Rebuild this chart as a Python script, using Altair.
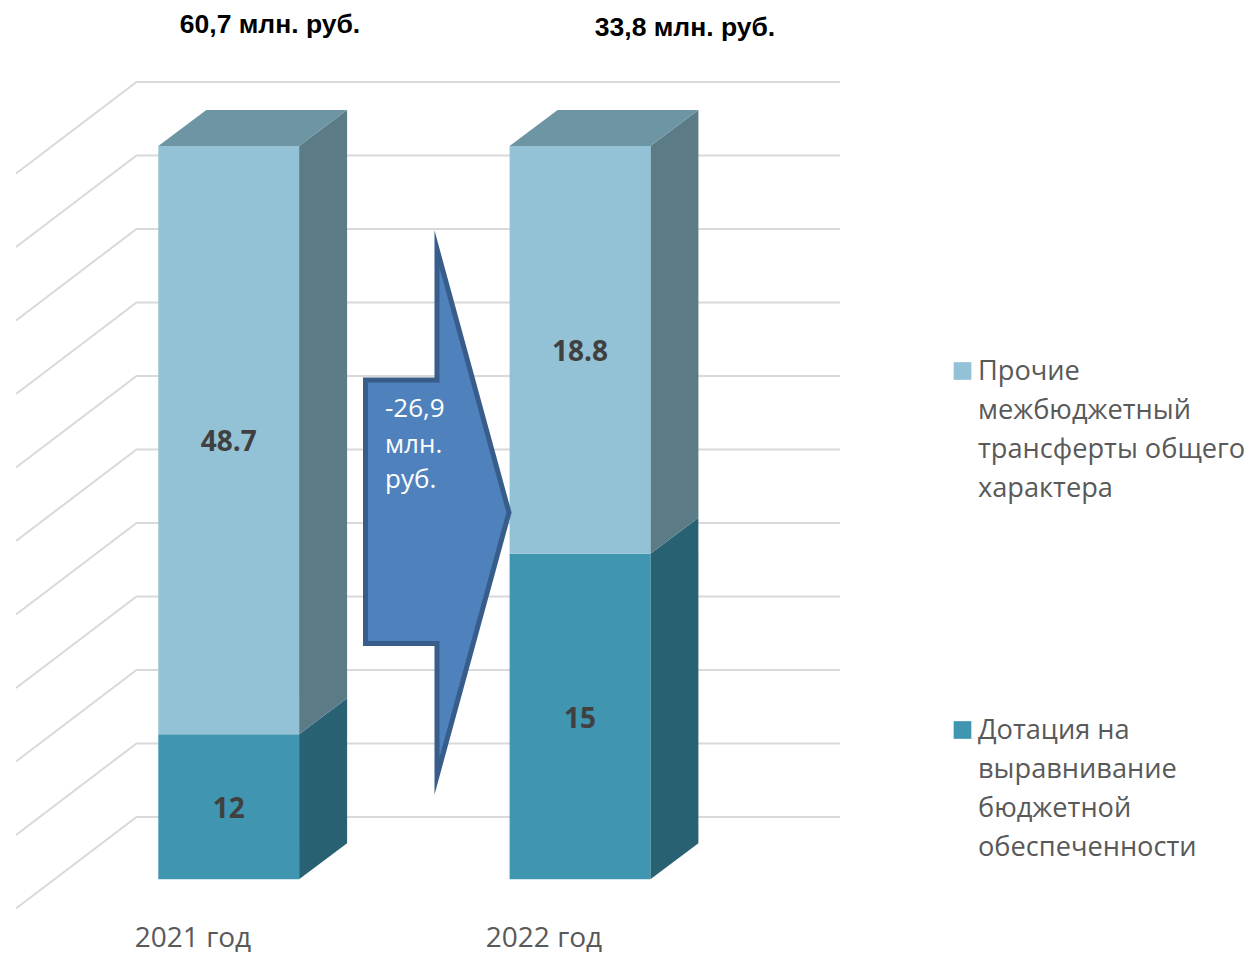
import altair as alt

# ---- data ----
categories = ["2021 год", "2022 год"]
dotation = [12, 15]
other = [48.7, 18.8]
totals = ["60,7 млн. руб.", "33,8 млн. руб."]
change_lines = ["-26,9", "млн.", "руб."]
legend_other = ["Прочие", "межбюджетный", "трансферты общего", "характера"]
legend_dotation = ["Дотация на", "выравнивание", "бюджетной", "обеспеченности"]
grid_levels = [0, 10, 20, 30, 40, 50, 60, 70, 80, 90, 100]

# ---- styling and layout ----
C_DOT, C_OTH = "#4096B0", "#93C1D5"
C_DOT_SIDE, C_OTH_SIDE, C_TOP = "#286272", "#5B7B87", "#6E95A3"
C_GRID = "#D9D9D9"
W, H = 1237, 945
SLOT = 351.3          # px between bar centres
X0 = 228.7            # px position of first bar centre
PCT = 7.333           # px per percent
Y0 = 879.3            # px of front baseline
BAR_HALF = 70.4 / SLOT
DX = 48 / SLOT        # 3-D depth, horizontal
DY = 36 / PCT         # 3-D depth, vertical
def ux(p): return (p - X0) / SLOT
def uy(p): return (Y0 - p) / PCT

x_scale = alt.Scale(domain=[ux(8), ux(8 + W)], nice=False, zero=False)
y_scale = alt.Scale(domain=[uy(8 + H), uy(8)], nice=False, zero=False)
X = alt.X("x:Q", scale=x_scale, axis=None)
Y = alt.Y("y:Q", scale=y_scale, axis=None)
Y2 = alt.Y2("y2:Q")

# ---- normalised stacks ----
fronts, sides, tops, labels = [], [], [], []
for i in range(len(categories)):
    total = dotation[i] + other[i]
    split = dotation[i] / total * 100
    segs = [(0, split, dotation[i], C_DOT, C_DOT_SIDE), (split, 100, other[i], C_OTH, C_OTH_SIDE)]
    l, r = i - BAR_HALF, i + BAR_HALF
    for k, (a, b, v, c, cs) in enumerate(segs):
        fronts.append(dict(x=l, x2=r, y=a, y2=b, c=c))
        key = f"{i}-{k}"
        sides.append(dict(x=r, y=a, y2=b, c=cs, key=key))
        sides.append(dict(x=r + DX, y=a + DY, y2=b + DY, c=cs, key=key))
        labels.append(dict(x=i, y=(a + b) / 2, t=str(v)))
    key = f"top{i}"
    tops += [dict(x=l, y=100, y2=100, c=C_TOP, key=key),
             dict(x=l + DX, y=100, y2=100 + DY, c=C_TOP, key=key),
             dict(x=r, y=100, y2=100 + DY, c=C_TOP, key=key),
             dict(x=r + DX, y=100 + DY, y2=100 + DY, c=C_TOP, key=key)]

# ---- back wall grid ----
GRID_STEP = 73.5
grid = []
for g in grid_levels:
    py = 816.9 - g / 10 * GRID_STEP
    grid += [dict(x=ux(16), y=uy(py + 91.6), key=g, o=0),
             dict(x=ux(136.5), y=uy(py), key=g, o=1),
             dict(x=ux(840), y=uy(py), key=g, o=2)]

# ---- arrow ----
arrow = [dict(x=ux(365.5), y=uy(380), y2=uy(643.5)),
         dict(x=ux(437), y=uy(380), y2=uy(643.5)),
         dict(x=ux(437.001), y=uy(249), y2=uy(776)),
         dict(x=ux(509), y=uy(512.5), y2=uy(512.5))]

def df(r): return alt.Data(values=r)

layers = [
    alt.Chart(df(grid)).mark_line(color=C_GRID, strokeWidth=2, strokeJoin="miter").encode(
        x=X, y=Y, detail="key:N", order="o:Q"),
    alt.Chart(df(sides)).mark_area(orient="vertical").encode(
        x=X, y=Y, y2=Y2, detail="key:N", fill=alt.Fill("c:N", scale=None)),
    alt.Chart(df(tops)).mark_area(orient="vertical").encode(
        x=X, y=Y, y2=Y2, detail="key:N", fill=alt.Fill("c:N", scale=None)),
    alt.Chart(df(fronts)).mark_rect().encode(
        x=X, x2=alt.X2("x2:Q"), y=Y, y2=Y2, fill=alt.Fill("c:N", scale=None)),
    alt.Chart(df(arrow)).mark_area(orient="vertical", fill="#4F81BD", stroke="#385D8A", strokeWidth=5,
                                   strokeJoin="miter", strokeMiterLimit=10).encode(
        x=X, y=Y, y2=Y2),
    alt.Chart(df(labels)).mark_text(font="Open Sans", fontWeight="bold", fontSize=28, dy=3,
                                    color="#404040", baseline="middle").encode(
        x=X, y=Y, text="t:N"),
    alt.Chart(df([dict(x=ux(270), y=uy(25), t=totals[0]), dict(x=ux(685), y=uy(28), t=totals[1])])).mark_text(
        font="Liberation Sans", fontWeight="bold", fontSize=26.5, color="#000000", baseline="middle").encode(
        x=X, y=Y, text="t:N"),
    alt.Chart(df([dict(x=ux(193), y=uy(939), t=categories[0]), dict(x=ux(544), y=uy(939), t=categories[1])])).mark_text(
        font="Open Sans", fontSize=28, color="#595959", baseline="middle").encode(
        x=X, y=Y, text="t:N"),
    alt.Chart(df([dict(x=ux(385), y=uy(py), t=t) for t, py in zip(change_lines, [409, 445, 480])])).mark_text(
        font="Open Sans", fontSize=26, color="#FFFFFF", align="left", baseline="middle").encode(
        x=X, y=Y, text="t:N"),
    alt.Chart(df([dict(x=ux(978), y=uy(372 + 39 * n), t=t) for n, t in enumerate(legend_other)] +
                 [dict(x=ux(978), y=uy(731 + 39 * n), t=t) for n, t in enumerate(legend_dotation)])).mark_text(
        font="Open Sans", fontSize=27.2, color="#595959", align="left", baseline="middle").encode(
        x=X, y=Y, text="t:N"),
    alt.Chart(df([dict(x=ux(962.5), y=uy(371), c=C_OTH), dict(x=ux(962.5), y=uy(730), c=C_DOT)])).mark_square(
        size=313, opacity=1).encode(x=X, y=Y, fill=alt.Fill("c:N", scale=None)),
]

chart = alt.layer(*layers).properties(
    width=W, height=H, padding=0, autosize=alt.AutoSizeParams(type="none"),
).configure_view(stroke=None)

chart.save("out.html", embed_options={"renderer": "svg", "actions": False})
